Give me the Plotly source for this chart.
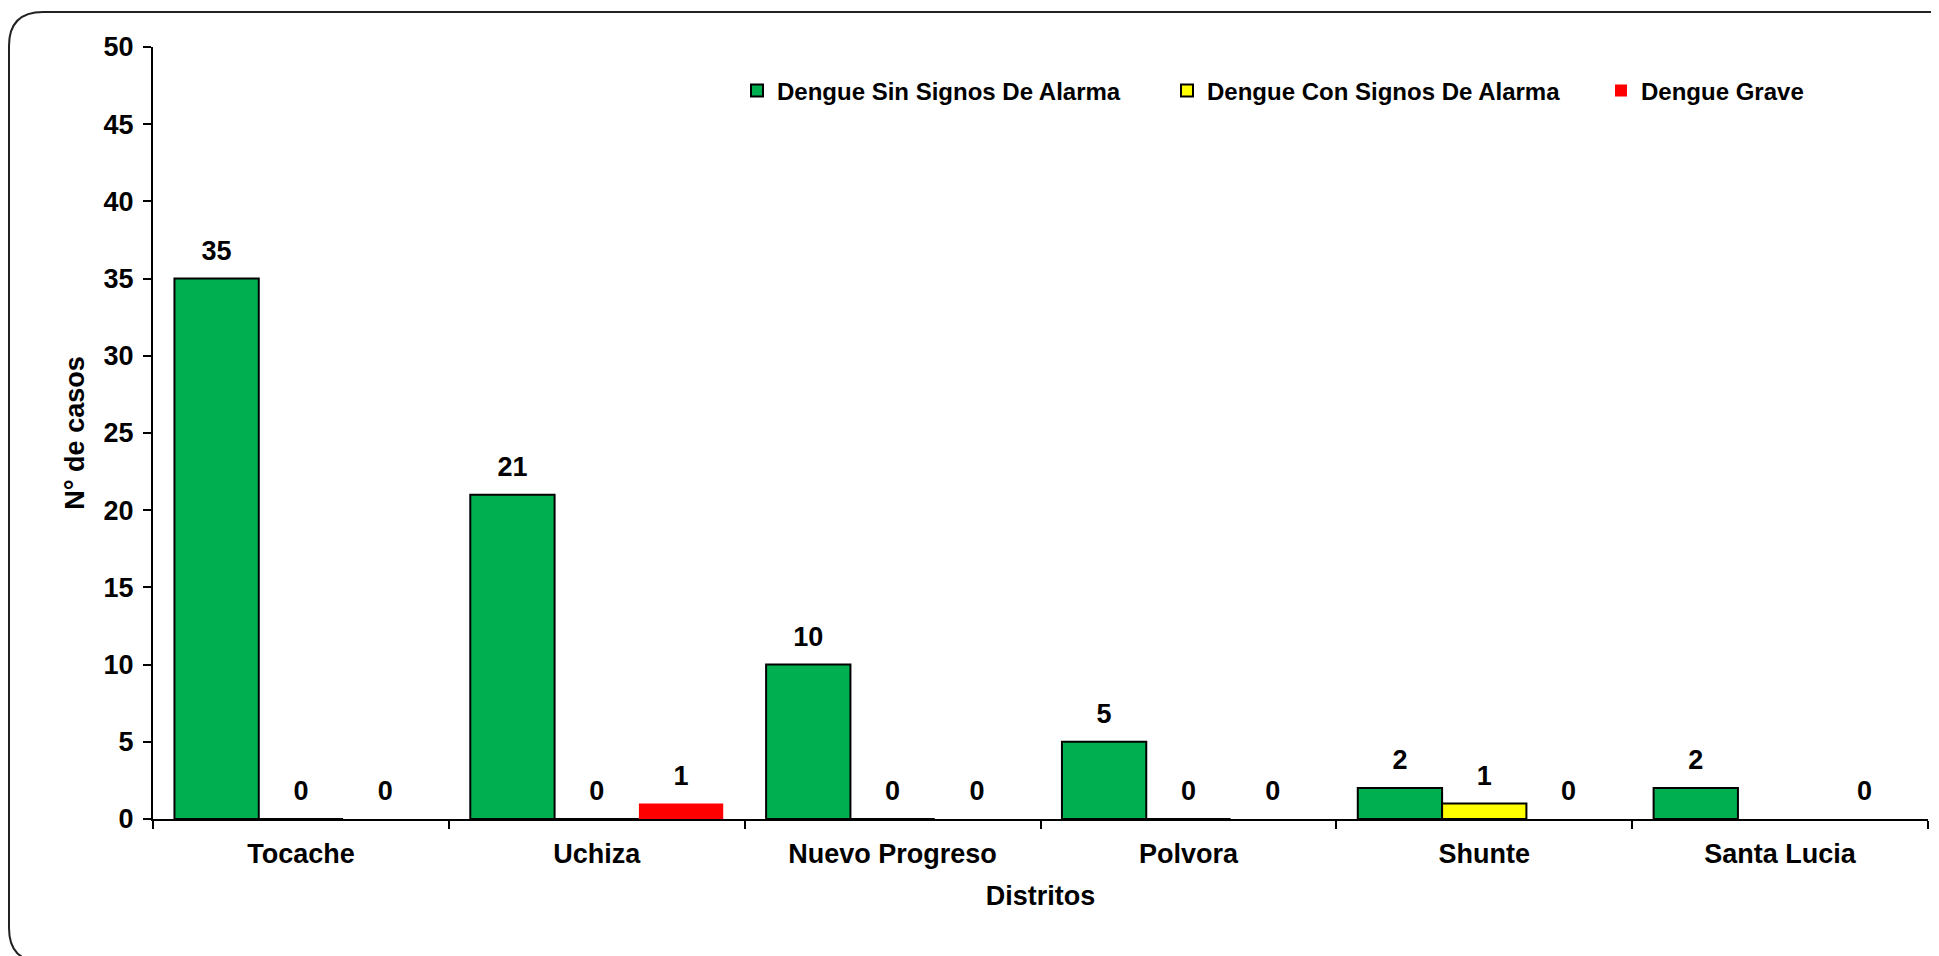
import plotly.graph_objects as go

distritos = ["Tocache", "Uchiza", "Nuevo Progreso", "Polvora", "Shunte", "Santa Lucia"]
sin_signos = [35, 21, 10, 5, 2, 2]
con_signos = [0, 0, 0, 0, 1, None]
grave = [0, 1, 0, 0, 0, 0]

W, H = 1939, 956
OFF = 8  # page body margin
L, R, T, B = 153 - OFF, 1928 - OFF, 47 - OFF, 819 - OFF
FONT = "Arial, Liberation Sans, sans-serif"

def px(x):
    return (x - OFF - L) / (R - L)

def py(y):
    return (B - (y - OFF)) / (B - T)

fig = go.Figure()
series = [
    ("Dengue Sin Signos De Alarma", sin_signos, "#00B050", 2, "legend", 737, "g1"),
    ("Dengue Con Signos De Alarma", con_signos, "#FFFF00", 2, "legend2", 1167, "g2"),
    ("Dengue Grave", grave, "#FF0000", 0, "legend3", 1601, "g3"),
]
legends = {}
for name, vals, col, lw, lg, lx, grp in series:
    fig.add_trace(go.Bar(
        x=distritos, y=vals, name=name, legend=lg, offsetgroup=grp,
        marker=dict(color=col, line=dict(color="black", width=lw)),
        cliponaxis=False,
    ))
    legends[lg] = dict(orientation="h", x=px(lx), y=py(91), xanchor="left", yanchor="middle",
                       font=dict(family=FONT, size=24, color="black", weight="bold"),
                       bgcolor="rgba(0,0,0,0)")
for name, vals, col, lw, lg, lx, grp in series:
    fig.add_trace(go.Scatter(
        x=distritos, y=vals, offsetgroup=grp, mode="markers+text",
        text=[("" if v is None else str(v)) for v in vals], textposition="top center",
        textfont=dict(family=FONT, size=27, color="black", weight="bold"),
        marker=dict(size=18, color="rgba(0,0,0,0)"),
        showlegend=False, hoverinfo="skip", cliponaxis=False,
    ))

# rounded border
x0, y0, x1, y1, r = 9, 12, 1985, 962, 34
path = (f"M {px(x0)},{py(y0 + r)} Q {px(x0)},{py(y0)} {px(x0 + r)},{py(y0)} "
        f"L {px(x1 - r)},{py(y0)} Q {px(x1)},{py(y0)} {px(x1)},{py(y0 + r)} "
        f"L {px(x1)},{py(y1 - r)} Q {px(x1)},{py(y1)} {px(x1 - r)},{py(y1)} "
        f"L {px(x0 + r)},{py(y1)} Q {px(x0)},{py(y1)} {px(x0)},{py(y1 - r)} Z")

fig.update_layout(
    width=W, height=H,
    margin=dict(l=L, r=W - R, t=T, b=H - B, autoexpand=False),
    paper_bgcolor="white", plot_bgcolor="white",
    barmode="group", bargap=0.145, bargroupgap=0,
    scattermode="group", scattergap=0.145,
    font=dict(family=FONT, size=27, color="black", weight="bold"),
    showlegend=True,
    shapes=[dict(type="path", path=path, xref="paper", yref="paper",
                 line=dict(color="#222222", width=2), fillcolor="rgba(0,0,0,0)", layer="below")],
    xaxis=dict(
        type="category", tickson="boundaries", ticks="outside", ticklen=8, tickwidth=2,
        tickcolor="black", showline=True, linecolor="black", linewidth=2,
        showgrid=False, zeroline=False, automargin=False, ticklabelstandoff=10,
        tickfont=dict(family=FONT, size=27, color="black", weight="bold"),
        title=dict(text="Distritos", standoff=18,
                   font=dict(family=FONT, size=27, color="black", weight="bold")),
    ),
    yaxis=dict(
        range=[0, 50], dtick=5, ticks="outside", ticklen=8, tickwidth=2, tickcolor="black",
        showline=True, linecolor="black", linewidth=2, showgrid=False, zeroline=False,
        automargin=False, ticklabelstandoff=4,
        tickfont=dict(family=FONT, size=27, color="black", weight="bold"),
        title=dict(text="N° de casos", standoff=11,
                   font=dict(family=FONT, size=27, color="black", weight="bold")),
    ),
    **legends,
)

fig.write_html("out.html")
